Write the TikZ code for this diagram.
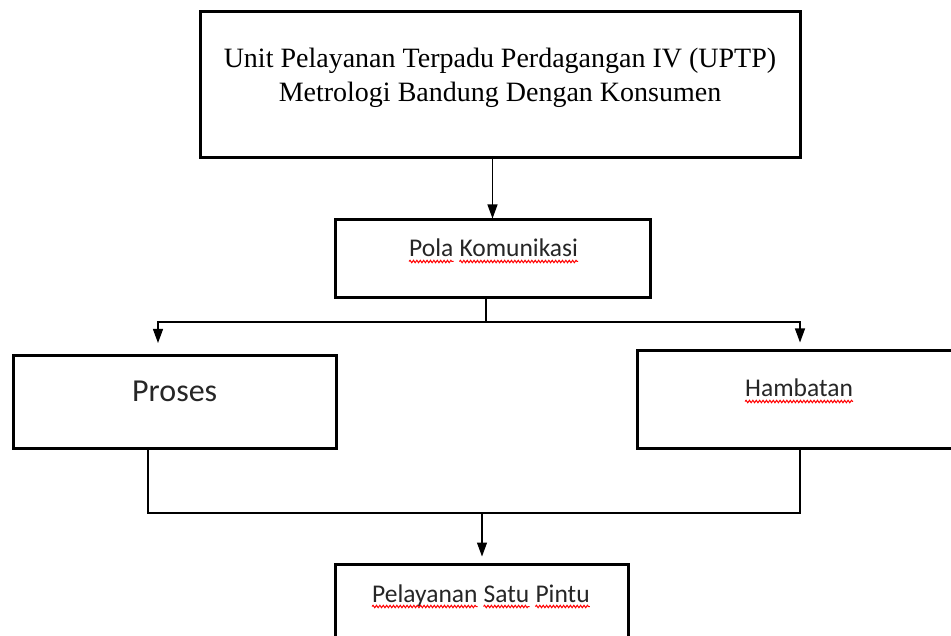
\documentclass[tikz,border=0pt]{standalone}
\usepackage{fontspec}
\setmainfont{Liberation Serif}
\newfontfamily\calfont{Carlito}
\usetikzlibrary{arrows.meta,decorations.pathmorphing}
\tikzset{
  boxnode/.style={draw=black, line width=3pt, inner sep=0pt},
  txt/.style={inner sep=0pt, text=black!85, anchor=base west, font=\calfont\fontsize{25.5}{30}\selectfont},
  toptxt/.style={inner sep=0pt, anchor=base, font=\fontsize{28}{34}\selectfont},
  conn/.style={draw=black, line width=1.2pt},
  arr/.style={conn, -{Triangle[length=14pt, width=10pt]}},
  wave/.style={draw=red, line width=1pt, decorate, decoration={snake, amplitude=1.2pt, segment length=3.4pt}}
}
\newcommand\wavyunder[1]{\draw[wave] ([yshift=-4.5pt]#1.base west) -- ([yshift=-4.5pt]#1.base east);}
\begin{document}
\begin{tikzpicture}[x=1pt, y=-1pt]
\clip (0,0) rectangle (951,636);
\fill[white] (0,0) rectangle (951,636);
% boxes
\node[boxnode, minimum width=600pt, minimum height=146pt] (top) at (500,85) {};
\node[toptxt] (top1) at (500,68) {Unit Pelayanan Terpadu Perdagangan IV (UPTP)};
\node[toptxt] (top2) at (500,102) {Metrologi Bandung Dengan Konsumen};
\node[boxnode, minimum width=315pt, minimum height=78pt] (pola) at (492.5,259) {};
\node[txt] (pw1) at (409,257) {Pola};
\node[txt] (pw2) at ([xshift=5.8pt]pw1.base east) {Komunikasi};
\wavyunder{pw1}\wavyunder{pw2}
\node[boxnode, minimum width=323pt, minimum height=92pt] (proses) at (174.5,402) {};
\node[txt, font=\calfont\fontsize{32}{38}\selectfont] (prosestxt) at (132,402) {Proses};
\node[boxnode, minimum width=326pt, minimum height=97pt] (hamb) at (800,399.5) {};
\node[txt] (hw1) at (745,397) {Hambatan};
\wavyunder{hw1}
\node[boxnode, minimum width=293pt, minimum height=140pt] (pel) at (481.5,634) {};
\node[txt] (lw1) at (372,602) {Pelayanan};
\node[txt] (lw2) at ([xshift=5.8pt]lw1.base east) {Satu};
\node[txt] (lw3) at ([xshift=5.8pt]lw2.base east) {Pintu};
\wavyunder{lw1}\wavyunder{lw2}\wavyunder{lw3}
% connectors
\draw[arr] (pola.north |- top.south) -- (pola.north);
\coordinate (split) at (486,322);
\coordinate (pa) at (158,343);
\draw[conn] (split |- pola.south) -- (split);
\draw[arr] (split) -| (pa);
\draw[arr, shorten >=7pt] (split) -| (hamb.north);
\coordinate (pl) at (148,513);
\coordinate (hr) at (800,513);
\coordinate (join) at (482,513);
\draw[conn] (pl |- proses.south) -- (pl) -- (hr) -- (hamb.south);
\draw[arr, shorten >=6pt] (join) -- (join |- pel.north);
\end{tikzpicture}
\end{document}
